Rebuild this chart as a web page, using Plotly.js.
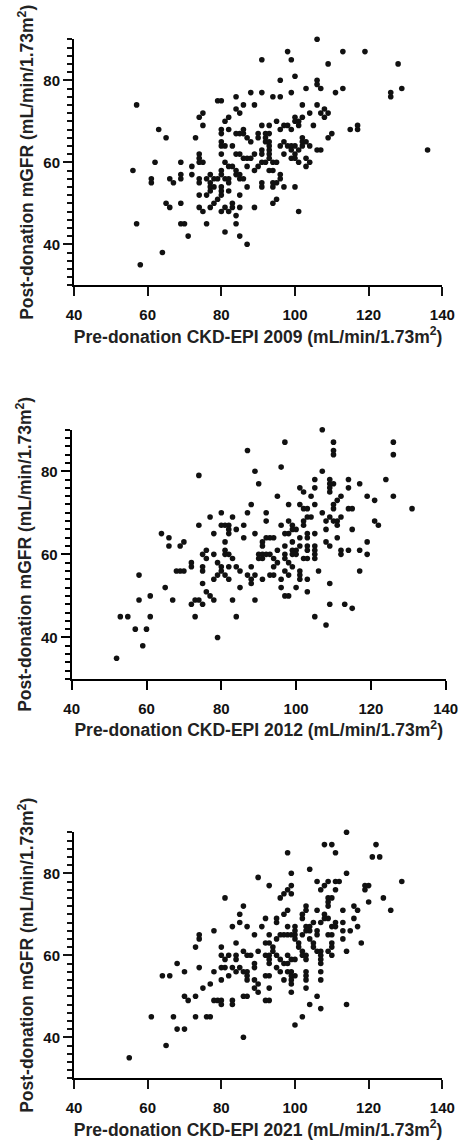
<!DOCTYPE html>
<html>
<head>
<meta charset="utf-8">
<script src="https://cdn.plot.ly/plotly-3.0.1.min.js"></script>
<style>html,body{margin:0;padding:0;background:#fff;}#chart{width:459px;height:1148px;}</style>
</head>
<body>
<div id="chart"></div>
<script>
// Panel 1: CKD-EPI 2009
const x2009 = [106,91,98,99,113,119,128,109,100,96,106,106,107,103,113,111,126,126,129,136,99,91,88,84,94,96,79,80,86,89,57,106,102,84,85,75,74,82,81,75,63,65,73,80,80,82,84,85,86,86,87,88,80,80,81,83,84,85,86,80,74,74,74,75,62,56,61,61,66,67,69,69,69,72,72,74,74,77,76,77,77,78,78,77,76,74,80,80,79,81,82,82,80,80,82,79,78,80,77,75,74,65,66,69,69,70,71,57,64,58,76,81,80,81,82,83,83,84,85,85,84,85,87,89,81,82,83,84,84,85,85,86,87,87,87,88,89,89,90,91,92,91,91,90,90,91,92,92,92,93,93,93,93,93,93,93,94,95,93,94,91,91,94,94,95,96,96,97,94,95,95,96,97,98,96,97,97,98,99,99,99,100,100,100,100,100,101,102,101,99,100,101,101,102,102,103,103,103,104,104,102,101,104,105,106,107,107,108,108,109,109,110,115,117,117];
const y2009 = [90,85,87,85,87,87,84,84,81,80,80,79,78,78,78,77,77,76,78,63,77,77,77,76,76,76,75,75,74,74,74,74,74,73,72,72,71,71,70,69,68,66,66,68,67,68,67,67,67,68,66,65,65,64,64,64,62,62,61,62,62,61,60,60,60,58,56,55,56,55,60,57,56,59,57,56,55,57,56,55,54,56,54,53,52,52,58,57,56,56,56,55,54,53,53,51,50,52,49,48,49,50,49,50,45,45,42,45,38,35,45,43,48,49,48,50,49,47,52,49,45,42,40,49,60,59,59,58,57,57,56,56,54,59,61,61,62,58,59,60,60,63,62,67,66,69,67,66,65,67,69,65,64,63,62,61,60,60,58,58,55,54,55,54,55,57,56,54,50,51,70,68,69,69,64,65,62,64,64,63,61,62,61,64,71,70,70,71,69,68,54,48,60,66,65,65,61,59,64,60,64,63,72,69,63,63,72,73,71,72,66,67,68,69,68];

// Panel 2: CKD-EPI 2012
const x2012 = [107,97,110,110,110,126,126,126,87,96,74,89,90,107,105,105,109,109,109,109,110,114,114,117,124,119,121,131,101,102,104,105,107,112,111,110,110,101,102,103,98,95,114,115,121,122,119,119,117,117,115,114,112,112,112,109,111,111,110,108,108,108,109,111,109,109,113,115,108,105,106,103,100,103,104,102,102,105,105,105,105,105,103,103,103,103,102,103,101,101,101,101,101,103,99,100,99,100,99,100,99,99,98,98,97,96,97,97,97,98,97,98,96,96,97,98,99,95,94,93,92,91,92,92,91,90,91,92,93,90,91,94,95,94,93,94,91,88,87,88,88,89,89,89,88,87,86,86,84,83,82,82,81,82,81,81,81,82,80,80,78,77,74,78,79,80,80,81,79,78,82,82,84,85,83,85,83,84,79,78,77,76,75,75,75,76,76,75,72,72,72,73,74,75,73,68,69,70,69,70,66,66,64,65,67,61,61,58,58,53,55,57,60,59,52];
const y2012 = [90,87,87,85,84,87,84,74,85,81,79,80,77,80,78,76,78,77,76,75,77,78,76,77,78,74,73,71,76,75,74,72,70,74,73,72,71,72,71,71,72,74,71,71,68,67,63,60,61,56,66,61,69,61,60,69,68,67,68,68,66,63,62,64,53,48,48,47,43,45,56,51,52,69,69,68,67,65,62,61,60,59,65,64,62,61,59,59,64,62,56,55,54,54,61,61,60,60,63,66,67,66,68,65,65,67,62,60,59,58,56,55,54,52,50,50,57,61,64,64,64,63,70,68,62,60,60,60,60,59,59,59,58,57,55,55,54,57,55,54,53,55,49,65,72,70,67,64,66,69,67,66,67,65,63,61,60,60,70,67,65,69,67,60,58,57,56,55,55,54,57,54,57,56,59,52,49,45,40,49,50,51,60,57,56,61,59,53,58,57,48,49,49,48,45,56,56,56,62,63,64,62,65,52,49,50,45,55,49,45,45,42,42,38,35];

// Panel 3: CKD-EPI 2021
const x2021 = [114,108,110,122,98,111,121,123,104,99,114,90,129,106,109,111,112,93,99,119,120,119,98,99,97,107,111,108,81,96,109,110,124,109,109,120,126,113,116,117,103,103,102,102,98,97,106,108,108,109,110,110,111,111,113,113,116,117,115,113,114,118,110,110,110,109,109,107,106,106,105,104,104,104,103,103,102,105,106,107,107,107,107,105,107,107,106,107,104,102,100,114,103,103,103,103,102,102,103,103,101,101,100,100,100,100,99,98,98,97,96,95,95,95,93,92,91,92,93,94,92,93,93,93,94,95,96,95,96,97,98,97,98,99,98,99,99,99,99,100,99,100,92,93,93,92,93,90,90,89,89,89,89,88,87,90,89,87,86,86,87,87,87,86,87,86,86,85,85,83,84,84,84,85,84,83,82,81,81,82,80,80,80,80,78,78,78,79,80,80,83,83,77,75,76,77,74,74,74,73,73,73,70,70,71,68,64,66,67,68,70,61,65,55];
const y2021 = [90,87,87,87,85,85,84,84,81,80,80,79,78,78,78,78,78,77,77,77,77,76,76,75,75,76,76,77,74,74,74,74,74,73,72,73,71,71,72,71,72,71,70,69,71,70,71,70,69,69,67,65,68,67,68,66,69,67,66,64,61,63,63,62,60,65,61,68,66,65,68,67,66,64,67,66,65,63,61,61,60,59,58,62,56,54,50,47,48,45,43,48,56,55,54,52,61,60,60,59,63,62,67,66,65,64,65,67,65,65,65,68,69,64,65,69,67,63,63,62,60,60,59,58,61,60,59,57,56,58,58,54,60,59,56,56,55,54,53,55,51,59,55,55,52,49,49,53,51,54,52,58,57,60,60,61,65,67,61,56,56,55,54,50,50,40,72,70,68,67,63,60,59,57,56,57,60,59,57,55,62,60,57,54,66,56,49,49,49,48,49,48,53,52,45,45,65,64,57,62,50,45,56,50,49,58,55,55,45,42,42,45,38,35];

const xTitles = [
  'Pre-donation CKD-EPI 2009 (mL/min/1.73m<sup>2</sup>)',
  'Pre-donation CKD-EPI 2012 (mL/min/1.73m<sup>2</sup>)',
  'Pre-donation CKD-EPI 2021 (mL/min/1.73m<sup>2</sup>)'
];
const yTitle = 'Post-donation mGFR (mL/min/1.73m<sup>2</sup>)';

const W = 459, H = 1148;
// pixel boxes of each plot area [left, right, top, bottom]
const boxes = [
  [74, 442.3, 39.3, 285.3],
  [71.7, 445.7, 429.7, 679],
  [74, 442.3, 832.3, 1078.3]
];
const xs = [x2009, x2012, x2021];
const ys = [y2009, y2012, y2021];
const tickColors = ['#111111', 'black', 'rgb(20,20,20)'];

const bold = v => '<b>' + v + '</b>';
const tickFont = {family: 'Liberation Sans, Arial, sans-serif', size: 15, color: '#111', weight: 'bold'};
const titleFont = {family: 'Liberation Sans, Arial, sans-serif', size: 17.5, color: '#222'};

const data = [];
const layout = {
  width: W, height: H,
  margin: {l: 0, r: 0, t: 0, b: 0, pad: 0},
  paper_bgcolor: '#fff', plot_bgcolor: 'rgba(0,0,0,0)',
  showlegend: false
};

for (let i = 0; i < 3; i++) {
  const sfx = i === 0 ? '' : String(i + 1);
  const b = boxes[i];
  const yDom = [1 - b[3] / H, 1 - b[2] / H];
  const tc = tickColors[i];
  data.push({
    type: 'scatter', mode: 'markers',
    x: xs[i], y: ys[i],
    xaxis: 'x' + sfx, yaxis: 'y' + sfx,
    marker: {color: '#111', size: 5.6},
    hoverinfo: 'skip', cliponaxis: false
  });
  layout['xaxis' + sfx] = {
    domain: [b[0] / W, b[1] / W],
    anchor: 'y' + sfx,
    range: [40, 140],
    tickmode: 'linear', tick0: 40, dtick: 20,
    tickprefix: '<b>', ticksuffix: '</b>',
    showline: true, linecolor: '#000', linewidth: 2,
    ticks: 'outside', ticklen: 9, tickwidth: 2, tickcolor: tc,
    ticklabelstandoff: 6,
    showgrid: false, zeroline: false,
    tickfont: tickFont,
    title: {text: bold(xTitles[i]), font: titleFont, standoff: 8}
  };
  layout['yaxis' + sfx] = {
    domain: yDom,
    anchor: 'x' + sfx,
    range: [30, 90],
    tickmode: 'linear', tick0: 40, dtick: 20,
    tickprefix: '<b>', ticksuffix: '</b>',
    showline: true, linecolor: '#000', linewidth: 2,
    ticks: 'outside', ticklen: 9, tickwidth: 2, tickcolor: tc,
    minor: {tickmode: 'linear', tick0: 30, dtick: 2, ticks: 'outside', ticklen: 5, tickwidth: 1.5, tickcolor: tc, showgrid: false},
    showgrid: false, zeroline: false,
    tickfont: tickFont,
    title: {text: bold(yTitle), font: titleFont, standoff: 5}
  };
}

Plotly.newPlot('chart', data, layout, {displayModeBar: false});
</script>
</body>
</html>
